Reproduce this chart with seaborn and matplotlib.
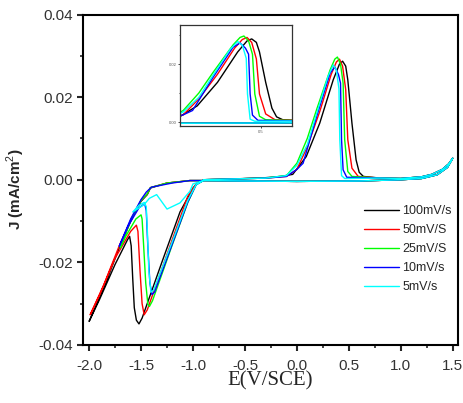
#!/usr/bin/env python

import pandas as pd
import matplotlib
matplotlib.use("Agg")
import matplotlib.pyplot as plt
import seaborn as sns
from matplotlib.ticker import MultipleLocator, FixedLocator, FormatStrFormatter

rates = ["100mV/s", "50mV/S", "25mV/S", "10mV/s", "5mV/s"]
colors = ["#000000", "#ff0000", "#00ff00", "#0000ff", "#00ffff"]

# positive end of the scan and the flat return, shared by all curves
tail_E = [0.8, 1.0, 1.2, 1.3, 1.4, 1.46, 1.5, 1.45, 1.35, 1.2, 1.0, 0.6, 0.0, -0.5, -0.9]
tail_J = [0.0004, 0.0003, 0.0007, 0.0013, 0.0025, 0.0038, 0.0052, 0.0030, 0.0012, 0.0003, 0.0, -0.0003, -0.0004, -0.0003, -0.0002]

# 100 mV/s
black_an_E = [-0.9, -0.6, -0.3, -0.16, -0.04, 0.09, 0.22, 0.35, 0.41, 0.44, 0.47, 0.49, 0.53, 0.57, 0.60, 0.64]
black_an_J = [0.0, 0.0002, 0.0005, 0.0008, 0.0013, 0.0056, 0.0137, 0.0242, 0.0280, 0.0287, 0.0275, 0.0242, 0.0137, 0.0048, 0.0018, 0.0008]
black_ca_E = [-1.03, -1.25, -1.41, -1.44, -1.50, -1.60, -1.71, -1.86, -2.0,
              -1.90, -1.75, -1.63, -1.61, -1.595, -1.58, -1.565, -1.545, -1.52, -1.49, -1.30, -1.125, -1.0, -0.95, -0.9]
black_ca_J = [-0.0002, -0.0008, -0.0020, -0.0036, -0.0052, -0.0101, -0.0165, -0.0262, -0.0343,
              -0.0290, -0.0205, -0.0145, -0.0137, -0.0160, -0.0240, -0.0310, -0.0340, -0.0349, -0.0335, -0.0200, -0.0078, -0.0020, -0.0006, -0.0002]

# 50 mV/s
red_an_E = [-0.9, -0.6, -0.3, -0.1, 0.0, 0.1, 0.22, 0.33, 0.38, 0.41, 0.44, 0.47, 0.49, 0.53, 0.59]
red_an_J = [0.0, 0.0002, 0.0004, 0.0008, 0.0025, 0.0080, 0.0165, 0.0255, 0.0285, 0.0292, 0.0275, 0.0218, 0.0097, 0.0028, 0.0008]
red_ca_E = [-1.03, -1.25, -1.41, -1.44, -1.50, -1.60, -1.71, -1.86, -1.99,
            -1.90, -1.75, -1.60, -1.545, -1.53, -1.51, -1.49, -1.47, -1.44, -1.20, -1.05, -0.97, -0.9]
red_ca_J = [-0.0002, -0.0008, -0.0019, -0.0034, -0.0050, -0.0098, -0.0160, -0.0255, -0.0327,
            -0.0280, -0.0190, -0.0125, -0.0110, -0.0125, -0.0220, -0.0300, -0.0327, -0.0315, -0.0145, -0.0040, -0.0010, -0.0002]

# 25 mV/s
green_an_E = [-0.9, -0.6, -0.3, -0.1, 0.0, 0.1, 0.19, 0.32, 0.365, 0.39, 0.42, 0.445, 0.46, 0.49, 0.53]
green_an_J = [0.0, 0.0002, 0.0004, 0.0010, 0.0040, 0.0100, 0.0170, 0.0266, 0.0292, 0.0297, 0.0280, 0.0234, 0.0097, 0.0020, 0.0008]
green_ca_E = [-1.03, -1.25, -1.41, -1.44, -1.50, -1.60, -1.70,
              -1.65, -1.55, -1.50, -1.49, -1.475, -1.455, -1.435, -1.42, -1.39, -1.20, -1.05, -0.97, -0.9]
green_ca_J = [-0.0002, -0.0008, -0.0019, -0.0034, -0.0050, -0.0098, -0.0165,
              -0.0138, -0.0095, -0.0085, -0.0095, -0.0160, -0.0250, -0.0300, -0.0307, -0.0293, -0.0158, -0.0055, -0.0012, -0.0002]

# 10 mV/s
blue_an_E = [-0.9, -0.6, -0.3, -0.1, 0.0, 0.06, 0.19, 0.32, 0.365, 0.40, 0.42, 0.43, 0.445, 0.48]
blue_an_J = [0.0, 0.0002, 0.0004, 0.0008, 0.0025, 0.0040, 0.0153, 0.0258, 0.0273, 0.0255, 0.0234, 0.0097, 0.0024, 0.0006]
blue_ca_E = [-1.03, -1.2, -1.4, -1.45, -1.50, -1.60, -1.71,
             -1.62, -1.52, -1.465, -1.45, -1.435, -1.415, -1.395, -1.37, -1.20, -1.05, -0.97, -0.9]
blue_ca_J = [-0.0002, -0.0008, -0.0018, -0.0030, -0.0048, -0.0095, -0.0161,
             -0.0110, -0.0068, -0.0058, -0.0075, -0.0160, -0.0250, -0.0278, -0.0272, -0.0156, -0.0054, -0.0012, -0.0002]

# 5 mV/s
cyan_an_E = [-0.9, -0.6, -0.3, -0.1, 0.0, 0.1, 0.19, 0.30, 0.35, 0.38, 0.405, 0.413, 0.43, 0.46]
cyan_an_J = [0.0, 0.0002, 0.0004, 0.0010, 0.0035, 0.0085, 0.0160, 0.0250, 0.0278, 0.0265, 0.0220, 0.0097, 0.0010, 0.0003]
cyan_ca_E = [-1.0, -1.03, -1.125, -1.25, -1.35, -1.42, -1.47, -1.53, -1.58,
             -1.52, -1.47, -1.45, -1.44, -1.425, -1.405, -1.38, -1.20, -1.05, -0.97, -0.9]
cyan_ca_J = [-0.0010, -0.0028, -0.0056, -0.0071, -0.0036, -0.0045, -0.0060, -0.0070, -0.0078,
             -0.0062, -0.0055, -0.0065, -0.0120, -0.0220, -0.0272, -0.0268, -0.0150, -0.0050, -0.0012, -0.0002]


def build_frame():
    parts = [
        (black_an_E, black_an_J, black_ca_E, black_ca_J),
        (red_an_E, red_an_J, red_ca_E, red_ca_J),
        (green_an_E, green_an_J, green_ca_E, green_ca_J),
        (blue_an_E, blue_an_J, blue_ca_E, blue_ca_J),
        (cyan_an_E, cyan_an_J, cyan_ca_E, cyan_ca_J),
    ]
    frames = []
    for rate, (aE, aJ, cE, cJ) in zip(rates, parts):
        E = aE + tail_E + cE
        J = aJ + tail_J + cJ
        frames.append(pd.DataFrame({"E": E, "J": J, "rate": rate}))
    return pd.concat(frames, ignore_index=True)


def main():
    df = build_frame()
    palette = dict(zip(rates, colors))

    sns.set_style("ticks")
    plt.rcParams["font.family"] = ["Liberation Sans", "DejaVu Sans"]
    plt.rcParams["axes.unicode_minus"] = False
    plt.rcParams["mathtext.fontset"] = "custom"
    plt.rcParams["mathtext.bf"] = "Liberation Sans:bold"
    plt.rcParams["mathtext.rm"] = "Liberation Sans"

    fig = plt.figure(figsize=(4.63, 4.03), dpi=100)
    ax = fig.add_axes([0.179, 0.144, 0.81, 0.82])

    sns.lineplot(data=df, x="E", y="J", hue="rate", hue_order=rates, palette=palette,
                 sort=False, estimator=None, linewidth=1.0, ax=ax)

    ax.set_xlim(-2.06, 1.55)
    ax.set_ylim(-0.04, 0.04)
    ax.xaxis.set_major_locator(MultipleLocator(0.5))
    ax.xaxis.set_minor_locator(MultipleLocator(0.25))
    ax.yaxis.set_major_locator(MultipleLocator(0.02))
    ax.yaxis.set_minor_locator(MultipleLocator(0.01))
    ax.xaxis.set_major_formatter(FormatStrFormatter("%.1f"))
    ax.yaxis.set_major_formatter(FormatStrFormatter("%.2f"))
    ax.tick_params(which="major", direction="out", length=4, width=1.5, labelsize=11,
                   labelcolor="#333333", pad=3)
    ax.tick_params(axis="x", which="major", pad=6)
    ax.tick_params(which="minor", direction="out", length=2.5, width=1.2)
    for s in ax.spines.values():
        s.set_linewidth(1.5)
        s.set_color("black")

    ax.set_xlabel("E(V/SCE)", fontsize=15, family=["Liberation Serif", "DejaVu Serif"])
    ax.xaxis.set_label_coords(0.5, -0.08)
    ax.set_ylabel("J (mA/cm$^2$)", fontsize=11, fontweight="bold")
    ax.yaxis.set_label_coords(-0.148, 0.47)

    ax.legend(loc="center left", bbox_to_anchor=(0.735, 0.29), frameon=False,
              fontsize=9, handlelength=2.8, handletextpad=0.3, labelspacing=0.55,
              borderaxespad=0)

    # inset zoom on the anodic peak
    ins = fig.add_axes([0.389, 0.687, 0.242, 0.251])
    sns.lineplot(data=df, x="E", y="J", hue="rate", hue_order=rates, palette=palette,
                 sort=False, estimator=None, linewidth=1.0, ax=ins, legend=False)
    ins.set_xlim(-0.02, 0.70)
    ins.set_ylim(-0.0014, 0.0335)
    ins.xaxis.set_major_locator(FixedLocator([0.5]))
    ins.yaxis.set_major_locator(FixedLocator([0.0, 0.02]))
    ins.yaxis.set_minor_locator(FixedLocator([0.01, 0.03]))
    ins.xaxis.set_major_formatter(FormatStrFormatter("%.1f"))
    ins.yaxis.set_major_formatter(FormatStrFormatter("%.2f"))
    ins.tick_params(which="major", length=1.5, width=0.6, labelsize=3, pad=1, labelcolor="#555555")
    ins.tick_params(which="minor", length=1, width=0.6)
    ins.set_xlabel("")
    ins.set_ylabel("")
    for s in ins.spines.values():
        s.set_linewidth(0.9)
        s.set_color("#333333")

    fig.savefig("out.png", dpi=100)


if __name__ == "__main__":
    main()
